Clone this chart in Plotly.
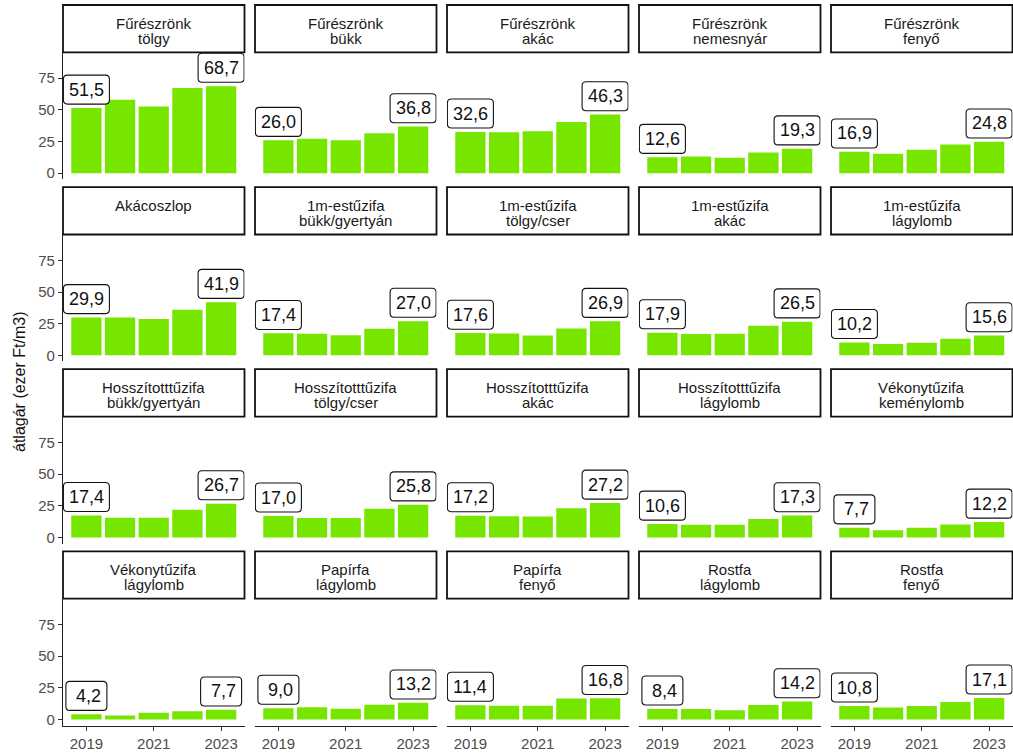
import plotly.graph_objects as go

years = [2019, 2020, 2021, 2022, 2023]

strip_line1 = [
    "Fűrészrönk", "Fűrészrönk", "Fűrészrönk", "Fűrészrönk", "Fűrészrönk",
    "Akácoszlop", "1m-estűzifa", "1m-estűzifa", "1m-estűzifa", "1m-estűzifa",
    "Hosszítotttűzifa", "Hosszítotttűzifa", "Hosszítotttűzifa", "Hosszítotttűzifa", "Vékonytűzifa",
    "Vékonytűzifa", "Papírfa", "Papírfa", "Rostfa", "Rostfa",
]
strip_line2 = [
    "tölgy", "bükk", "akác", "nemesnyár", "fenyő",
    "", "bükk/gyertyán", "tölgy/cser", "akác", "lágylomb",
    "bükk/gyertyán", "tölgy/cser", "akác", "lágylomb", "keménylomb",
    "lágylomb", "lágylomb", "fenyő", "lágylomb", "fenyő",
]

furesz_tolgy = [51.5, 58.0, 52.7, 67.3, 68.7]
furesz_bukk = [26.0, 27.3, 26.0, 31.6, 36.8]
furesz_akac = [32.6, 32.4, 33.2, 40.5, 46.3]
furesz_nemesnyar = [12.6, 13.2, 12.3, 16.4, 19.3]
furesz_fenyo = [16.9, 15.4, 18.6, 22.6, 24.8]
akacoszlop = [29.9, 29.8, 28.6, 36.0, 41.9]
m1_bukk = [17.4, 17.0, 15.8, 21.0, 27.0]
m1_tolgy = [17.6, 17.2, 15.6, 21.2, 26.9]
m1_akac = [17.9, 16.9, 17.1, 23.4, 26.5]
m1_lagylomb = [10.2, 8.9, 9.9, 13.1, 15.6]
hossz_bukk = [17.4, 15.5, 15.5, 21.8, 26.7]
hossz_tolgy = [17.0, 15.4, 15.4, 22.6, 25.8]
hossz_akac = [17.2, 16.7, 16.6, 23.0, 27.2]
hossz_lagylomb = [10.6, 10.1, 10.0, 14.5, 17.3]
vekony_kemeny = [7.7, 5.6, 7.6, 10.2, 12.2]
vekony_lagy = [4.2, 3.2, 5.3, 6.5, 7.7]
papir_lagy = [9.0, 9.8, 8.6, 11.8, 13.2]
papir_fenyo = [11.4, 10.9, 11.0, 16.6, 16.8]
rost_lagy = [8.4, 8.4, 7.4, 11.6, 14.2]
rost_fenyo = [10.8, 9.5, 10.7, 13.9, 17.1]

series = [
    furesz_tolgy, furesz_bukk, furesz_akac, furesz_nemesnyar, furesz_fenyo,
    akacoszlop, m1_bukk, m1_tolgy, m1_akac, m1_lagylomb,
    hossz_bukk, hossz_tolgy, hossz_akac, hossz_lagylomb, vekony_kemeny,
    vekony_lagy, papir_lagy, papir_fenyo, rost_lagy, rost_fenyo,
]

y_ticks = [0, 25, 50, 75]
x_ticks = [2019, 2021, 2023]
label_offset = 14.5

W, H = 1013, 754
FONT = "Liberation Sans, Arial, sans-serif"
BAR = "#76E600"
LBL_FS = 18


def fmt(v):
    s = f"{v:.1f}".replace(".", ",")
    return ("\u00a0" + s) if v < 10 else s


def rounded_path(hw, hh, rr):
    return (f"M {-hw + rr},{-hh} L {hw - rr},{-hh} Q {hw},{-hh} {hw},{-hh + rr} "
            f"L {hw},{hh - rr} Q {hw},{hh} {hw - rr},{hh} L {-hw + rr},{hh} "
            f"Q {-hw},{hh} {-hw},{hh - rr} L {-hw},{-hh + rr} Q {-hw},{-hh} {-hw + rr},{-hh} Z")


fig = go.Figure()
layout = dict(
    width=W, height=H, margin=dict(l=0, r=0, t=0, b=0),
    plot_bgcolor="white", paper_bgcolor="white", showlegend=False,
    font=dict(family=FONT),
)
shapes = []
annotations = []

for i, vals in enumerate(series):
    r, c = divmod(i, 5)
    n = "" if i == 0 else str(i + 1)
    left = 63 + 192 * c
    right = left + 181.5
    ptop = 52.5 + 182.6 * r
    pbot = ptop + 127.3
    stop = ptop - 47.5

    fig.add_trace(go.Bar(
        x=years, y=vals, width=0.9, marker=dict(color=BAR, line=dict(width=0)),
        xaxis="x" + n, yaxis="y" + n, hoverinfo="skip",
    ))

    bottom_row = r == 3
    left_col = c == 0
    layout["xaxis" + n] = dict(
        domain=[left / W, right / W], range=[2018.305, 2023.695],
        anchor="y" + n, showgrid=False, zeroline=False,
        tickvals=x_ticks, showticklabels=bottom_row,
        ticks="outside" if bottom_row else "", ticklen=4, tickcolor="#333333",
        showline=bottom_row, linecolor="#222222", linewidth=1.1,
        tickfont=dict(size=15, color="#4D4D4D", family=FONT),
        fixedrange=True,
    )
    layout["yaxis" + n] = dict(
        domain=[1 - pbot / H, 1 - ptop / H], range=[-4.8, 95.4],
        anchor="x" + n, showgrid=False, zeroline=False,
        tickvals=y_ticks, showticklabels=left_col,
        ticks="outside" if left_col else "", ticklen=4, tickcolor="#333333",
        showline=left_col, linecolor="#222222", linewidth=1.1,
        tickfont=dict(size=15, color="#4D4D4D", family=FONT),
        fixedrange=True,
    )

    # strip
    shapes.append(dict(
        type="rect", xref="paper", yref="paper",
        x0=left / W, x1=right / W, y0=1 - ptop / H, y1=1 - stop / H,
        line=dict(color="#111111", width=1.8), fillcolor="white", layer="above",
    ))
    cx = (left + right) / 2 / W
    annotations.append(dict(
        xref="paper", yref="paper", x=cx, y=1 - (stop + 18.7) / H,
        text=strip_line1[i], showarrow=False, xanchor="center", yanchor="middle",
        font=dict(size=15, color="#1A1A1A", family=FONT),
    ))
    if strip_line2[i]:
        annotations.append(dict(
            xref="paper", yref="paper", x=cx, y=1 - (stop + 33.2) / H,
            text=strip_line2[i], showarrow=False, xanchor="center", yanchor="middle",
            font=dict(size=15, color="#1A1A1A", family=FONT),
        ))

    # value labels for first and last year (rounded boxes clipped to panel)
    for k in (0, len(years) - 1):
        txt = fmt(vals[k])
        tw = sum(5.0 if ch in ",\u00a0" else 10.0 for ch in txt)
        shapes.append(dict(
            type="path", xref="x" + n, yref="y" + n,
            xsizemode="pixel", ysizemode="pixel",
            xanchor=years[k], yanchor=vals[k] + label_offset,
            path=rounded_path(tw / 2 + 5.5, 14.5, 4),
            line=dict(color="#111111", width=1.1), fillcolor="white", layer="above",
        ))
        annotations.append(dict(
            xref="x" + n, yref="y" + n, x=years[k], y=vals[k] + label_offset,
            text=txt, showarrow=False, xanchor="center", yanchor="middle",
            font=dict(size=LBL_FS, color="#111111", family=FONT),
        ))

annotations.append(dict(
    xref="paper", yref="paper", x=20 / W, y=1 - 383 / H,
    text="átlagár (ezer Ft/m3)", showarrow=False, textangle=-90,
    xanchor="center", yanchor="middle",
    font=dict(size=16, color="#111111", family=FONT),
))

layout["shapes"] = shapes
layout["annotations"] = annotations
fig.update_layout(**layout)
fig.write_html(
    "out.html",
    config={"displayModeBar": False, "staticPlot": True},
    post_script="document.body.style.margin='0';document.body.style.overflow='hidden';",
)
